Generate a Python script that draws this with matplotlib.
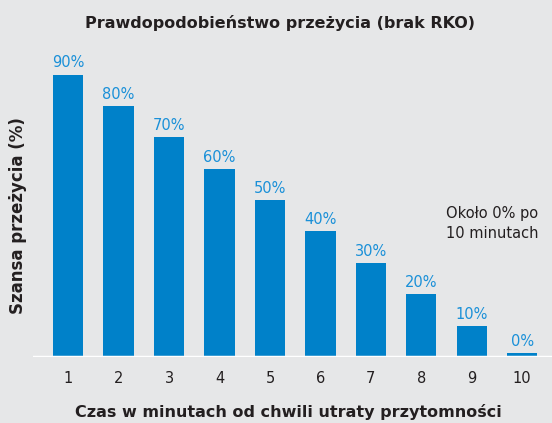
import matplotlib
matplotlib.use("Agg")
import matplotlib.pyplot as plt
import numpy as np

# Dane
minuty = [1, 2, 3, 4, 5, 6, 7, 8, 9, 10]
szansa = [90, 80, 70, 60, 50, 40, 30, 20, 10, 0]
etykiety = [f"{v}%" for v in szansa]

tlo = '#e6e7e8'
niebieski = '#0081c9'
tekst_nieb = '#1a90d8'
ciemny = '#231f20'

plt.rcParams['font.family'] = ['DejaVu Sans']

fig = plt.figure(figsize=(5.52, 4.23), dpi=100, facecolor=tlo)
ax = fig.add_axes([0.06, 0.156, 0.94, 0.742])
ax.set_facecolor(tlo)

# slupek 0% dostaje minimalna wysokosc, zeby byl widoczny
wys = np.maximum(np.array(szansa, dtype=float), 1.2)
ax.bar(minuty, wys, width=0.6, color=niebieski, zorder=2)

for x, h, lab in zip(minuty, wys, etykiety):
    ax.text(x, h + 1.3, lab, ha='center', va='bottom', color=tekst_nieb, fontsize=10.5)

ax.axhline(0, color='white', lw=2.5, zorder=3)

ax.set_xlim(0.306, 10.59)
ax.set_ylim(0, 100)
ax.set_xticks(minuty)
ax.set_xticklabels([str(m) for m in minuty], fontsize=10.5, color=ciemny)
ax.tick_params(axis='x', length=0, pad=10)
ax.set_yticks([])
for s in ax.spines.values():
    s.set_visible(False)

ax.text(9.41, 42.5, "Około 0% po\n10 minutach", ha='center', va='center',
        fontsize=10.5, color=ciemny, linespacing=1.45)

fig.text(0.507, 0.946, "Prawdopodobieństwo przeżycia (brak RKO)", ha='center', va='center',
         fontsize=11.5, fontweight='bold', color=ciemny)
fig.text(0.522, 0.026, "Czas w minutach od chwili utraty przytomności", ha='center', va='center',
         fontsize=11.5, fontweight='bold', color=ciemny)
fig.text(0.033, 0.49, "Szansa przeżycia (%)", ha='center', va='center', rotation=90,
         fontsize=12, fontweight='bold', color=ciemny)

fig.savefig("out.png", dpi=100, facecolor=tlo)
